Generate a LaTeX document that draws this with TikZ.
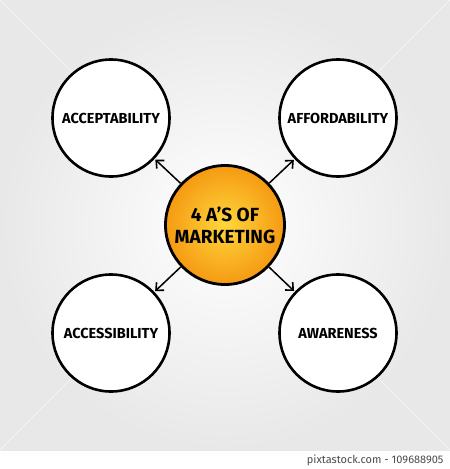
\documentclass[tikz,border=0pt]{standalone}
\usepackage{fontspec}
\setmainfont{Fira Sans}
\usepackage{xcolor}
\usetikzlibrary{calc, arrows.meta}

\definecolor{bgGray}{HTML}{E8E8E8}
\definecolor{coreOuter}{HTML}{F59A12}
\definecolor{coreInner}{HTML}{FFD63C}

\tikzset{
	ring/.style = {circle, draw = black, line width = 2.6pt, fill = white, minimum size = 117pt, inner sep = 0pt, font = \bfseries\fontsize{14.5}{16}\selectfont},
	core/.style = {circle, draw = black, line width = 2.8pt, minimum size = 119pt, inner sep = 0pt, align = center, inner color = coreInner, outer color = coreOuter, font = \bfseries\fontsize{19}{22}\selectfont},
	link/.style = {line width = 1.5pt, -{Straight Barb[length=6pt, width=11pt, line width=1.6pt]}, shorten > = 1pt}
}

\begin{document}
\begin{tikzpicture}[x = 1pt, y = -1pt]
			\def\W{450};
			\def\H{469};
			\def\G{450};

			\useasboundingbox (0,0) rectangle (\W,\H);

			\begin{scope}
				\fill [white] (0,0) rectangle (\W,\H);
				\shade [inner color = white, outer color = bgGray] (0,0) rectangle (\W,\G);
				\draw [white!60!bgGray, line width = 0.5pt] (0,0) -- (\W,\G);
				\draw [white!60!bgGray, line width = 0.5pt] (\W,0) -- (0,\G);
			\end{scope}

			\begin{scope}
				\node [core] (market) at (225,225) {4 A'S OF\\MARKETING};

				\node [ring] (accept) at (111,118) {ACCEPTABILITY};
				\node [ring] (afford) at (338,118) {AFFORDABILITY};
				\node [ring] (access) at (111,333) {ACCESSIBILITY};
				\node [ring] (aware) at (338,333) {AWARENESS};
			\end{scope}

			\begin{scope}
				\draw [link] (market) -- (accept);
				\draw [link] (market) -- (afford);
				\draw [link] (market) -- (access);
				\draw [link] (market) -- (aware);
			\end{scope}

			\node [anchor = east, text = black!70, font = \fontsize{11}{12}\selectfont] (credit) at (447,460) {pixtastock.com - 109688905};
		\end{tikzpicture}
\end{document}
